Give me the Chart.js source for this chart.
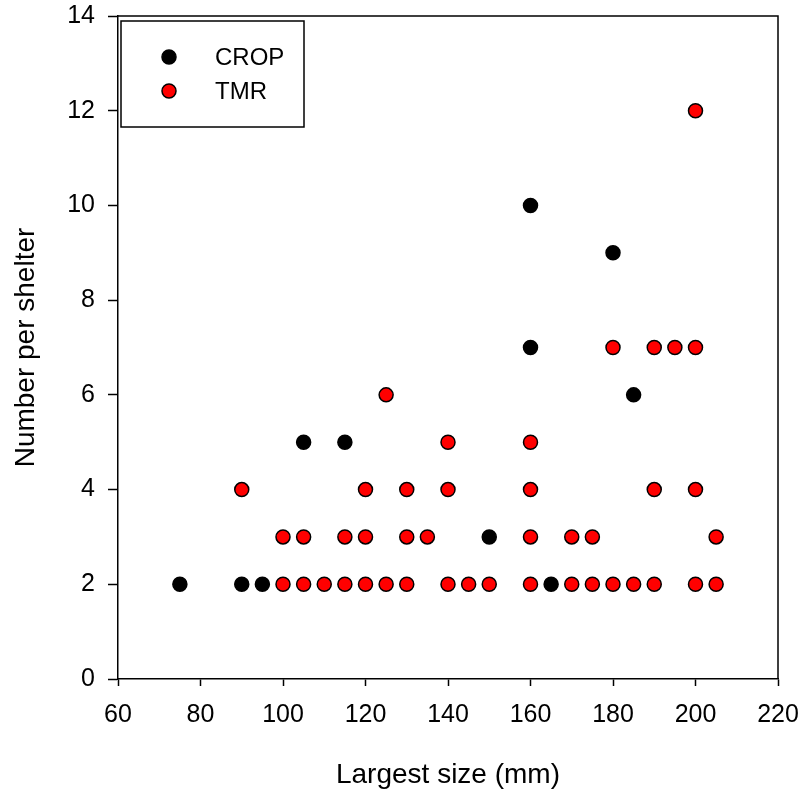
<!DOCTYPE html>
<html>
<head>
<meta charset="utf-8">
<script src="https://cdn.jsdelivr.net/npm/chart.js@4.4.1/dist/chart.umd.min.js"></script>
<style>
  html, body { margin: 0; padding: 0; background: #fff; }
  #wrap { width: 805px; height: 796px; }
</style>
</head>
<body>
<div id="wrap"><canvas id="scatter" width="805" height="796"></canvas></div>
<script>
// data
const seriesNames = ['CROP', 'TMR'];
const cropX = [75, 90, 95, 105, 115, 150, 160, 160, 165, 180, 185];
const cropY = [2, 2, 2, 5, 5, 3, 10, 7, 2, 9, 6];
const tmrX = [100, 105, 110, 115, 120, 125, 130, 140, 145, 150, 160, 170, 175, 180, 185, 190, 200, 205,
              100, 105, 115, 120, 130, 135, 160, 170, 175, 205,
              90, 120, 130, 140, 160, 190, 200,
              140, 160,
              125,
              180, 190, 195, 200,
              200];
const tmrY = [2, 2, 2, 2, 2, 2, 2, 2, 2, 2, 2, 2, 2, 2, 2, 2, 2, 2,
              3, 3, 3, 3, 3, 3, 3, 3, 3, 3,
              4, 4, 4, 4, 4, 4, 4,
              5, 5,
              6,
              7, 7, 7, 7,
              12];
const xTicks = [60, 80, 100, 120, 140, 160, 180, 200, 220];
const yTicks = [0, 2, 4, 6, 8, 10, 12, 14];

const toPoints = (xs, ys) => xs.map((x, i) => ({ x: x, y: ys[i] }));
const FONT = '"Liberation Sans", Arial, sans-serif';

// closes the box on top and right
const frame = {
  id: 'frame',
  afterDatasetsDraw(chart) {
    const { ctx, chartArea: a } = chart;
    ctx.save();
    ctx.strokeStyle = '#000';
    ctx.lineWidth = 1.5;
    ctx.beginPath();
    ctx.moveTo(a.left, a.top);
    ctx.lineTo(a.right, a.top);
    ctx.lineTo(a.right, a.bottom);
    ctx.stroke();
    ctx.restore();
  }
};

// boxed legend in the top-left corner
const boxLegend = {
  id: 'boxLegend',
  afterDraw(chart) {
    const ctx = chart.ctx;
    const x0 = 121, y0 = 21, w = 183, h = 106;
    ctx.save();
    ctx.fillStyle = '#fff';
    ctx.fillRect(x0, y0, w, h);
    ctx.strokeStyle = '#000';
    ctx.lineWidth = 1.5;
    ctx.strokeRect(x0, y0, w, h);
    ctx.font = '24px ' + FONT;
    ctx.textBaseline = 'middle';
    chart.data.datasets.forEach((ds, i) => {
      const cy = y0 + 36 + i * 34;
      ctx.beginPath();
      ctx.arc(x0 + 48, cy, 7, 0, Math.PI * 2);
      ctx.fillStyle = ds.backgroundColor;
      ctx.fill();
      ctx.lineWidth = 1.5;
      ctx.strokeStyle = ds.borderColor;
      ctx.stroke();
      ctx.fillStyle = '#000';
      ctx.fillText(ds.label, x0 + 94, cy + 1);
    });
    ctx.restore();
  }
};

new Chart(document.getElementById('scatter'), {
  type: 'scatter',
  data: {
    datasets: [
      {
        label: seriesNames[0],
        data: toPoints(cropX, cropY),
        backgroundColor: '#000000',
        borderColor: '#000000',
        pointRadius: 7,
        borderWidth: 1.5,
        order: 2
      },
      {
        label: seriesNames[1],
        data: toPoints(tmrX, tmrY),
        backgroundColor: '#ff0000',
        borderColor: '#000000',
        pointRadius: 7,
        borderWidth: 1.5,
        order: 1
      }
    ]
  },
  options: {
    responsive: false,
    animation: false,
    events: [],
    layout: { padding: { top: 16, right: 27, left: 0, bottom: 0 } },
    plugins: {
      legend: { display: false },
      tooltip: { enabled: false }
    },
    scales: {
      x: {
        type: 'linear',
        min: 60,
        max: 220,
        afterFit: s => { s.height = 117; s.paddingLeft = 0; s.paddingRight = 0; },
        afterBuildTicks: s => { s.ticks = xTicks.map(v => ({ value: v })); },
        grid: { display: true, drawOnChartArea: false, drawTicks: true, tickLength: 7, tickWidth: 1.5, tickColor: '#000' },
        border: { display: true, color: '#000', width: 1.5 },
        ticks: { color: '#000', padding: 14, maxRotation: 0, font: { family: FONT, size: 25 } },
        title: {
          display: true,
          text: 'Largest size (mm)',
          color: '#000',
          font: { family: FONT, size: 28 },
          padding: { top: 0, bottom: 4 }
        }
      },
      y: {
        type: 'linear',
        min: 0,
        max: 14,
        afterFit: s => { s.width = 118; s.paddingTop = 0; s.paddingBottom = 0; },
        afterBuildTicks: s => { s.ticks = yTicks.map(v => ({ value: v })); },
        grid: { display: true, drawOnChartArea: false, drawTicks: true, tickLength: 10, tickWidth: 1.5, tickColor: '#000' },
        border: { display: true, color: '#000', width: 1.5 },
        ticks: { color: '#000', padding: 13, font: { family: FONT, size: 25 } },
        title: {
          display: true,
          text: 'Number per shelter',
          color: '#000',
          font: { family: FONT, size: 28 },
          padding: { top: 9, bottom: 0 }
        }
      }
    }
  },
  plugins: [frame, boxLegend]
});
</script>
</body>
</html>
